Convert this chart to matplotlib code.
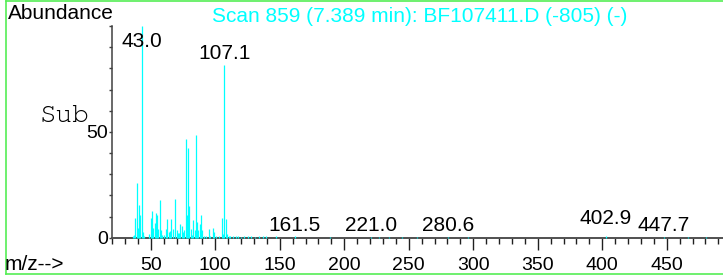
import matplotlib
matplotlib.use("Agg")
import matplotlib.pyplot as plt
from matplotlib.ticker import MultipleLocator, FixedLocator
from matplotlib.lines import Line2D
from matplotlib import font_manager

plt.rcParams['font.family'] = ['Liberation Sans', 'DejaVu Sans']

# ---- data ----
mz_main = [36, 37, 38, 39, 40, 41, 42, 43, 44, 45,
           49, 50, 51, 52, 53, 54, 55, 56, 57, 58, 59, 60,
           62, 63, 64, 65, 66, 67, 69, 70, 71, 72, 73, 74, 75, 76,
           77, 78, 79, 80, 81, 82, 83, 84, 85, 86, 87, 88, 89, 90, 91,
           93, 95, 96, 98, 99, 101, 103, 105, 106, 107, 108, 109]
ab_main = [0.8, 1.5, 9.4, 25.8, 4.6, 15.3, 10.5, 100, 2.7, 1.0,
           1.6, 9.4, 12.4, 4.7, 6.9, 11.6, 10.5, 4.0, 17.9, 3.8, 1.4, 1.5,
           4.2, 8.6, 2.7, 3.0, 8.6, 4.2, 18.4, 3.8, 2.0, 2.4, 6.6, 5.3, 2.7, 3.5,
           46.7, 10.5, 42.5, 14.8, 4.2, 1.5, 8.5, 3.8, 48.7, 7.4, 3.5, 6.6, 10.5, 3.5, 1.0,
           1.0, 4.0, 1.0, 4.6, 2.9, 1.0, 1.0, 9.4, 1.8, 81.6, 8.6, 1.8]
mz_minor = [110.5, 111.5, 113.6, 116, 118, 120, 122.6, 125.2, 127.8, 131,
            134.3, 136.9, 139.5, 147.2, 161.5, 188.6, 221.0, 226.8, 234.5,
            245.0, 256.7, 280.6, 295.7, 402.9, 447.7, 466.3, 480.5]
ab_minor = [0.9, 0.8, 0.7, 0.6, 0.6, 0.5, 0.7, 0.7, 0.6, 0.5,
            0.6, 0.6, 0.6, 0.6, 0.7, 0.5, 0.5, 0.4, 0.4,
            0.4, 0.3, 0.5, 0.5, 0.8, 0.5, 0.4, 0.4]
label_mz = [43.0, 107.1, 161.5, 221.0, 280.6, 402.9, 447.7]
label_peak = [100, 81.6, 0.7, 0.5, 0.5, 0.8, 0.5]
label_raise = [0, 0, 0, 0, 0, 3.0, 0]   # stagger to avoid neighbours
title = "Scan 859 (7.389 min): BF107411.D (-805) (-)"

# pick a Courier-like monospace font if one is installed
installed = {f.name for f in font_manager.fontManager.ttflist}
mono = ['Liberation Mono']
for cand in ['Courier New', 'Courier', 'Nimbus Mono PS', 'Nimbus Mono L',
             'FreeMono', 'Courier 10 Pitch', 'TeX Gyre Cursor']:
    if cand in installed:
        mono = [cand]
        break

W, H = 723, 275
fig = plt.figure(figsize=(W / 100, H / 100), dpi=100)
fig.patch.set_facecolor('white')

ax = fig.add_axes([112 / W, (H - 237.7) / H, (W - 112) / W, (237.7 - 26) / H])
ax.set_xlim(20, 493.6)
ax.set_ylim(0, 100)
ax.patch.set_alpha(0)

cyan = '#00ffff'
ax.vlines(mz_main, 0, ab_main, color=cyan, lw=0.9, zorder=3, clip_on=False)
ax.vlines(mz_minor, 0, ab_minor, color=cyan, lw=0.9, zorder=3, clip_on=False)

for m, p, r in zip(label_mz, label_peak, label_raise):
    y = min(p + 2.6, 90) + r
    ax.text(m, y, f"{m:.1f}", ha='center', va='baseline', fontsize=15,
            color='black', clip_on=False, zorder=4)

for s in ['top', 'right']:
    ax.spines[s].set_visible(False)
ax.spines['left'].set_color('#404040')
ax.spines['left'].set_linewidth(1.1)
ax.spines['bottom'].set_color('#505050')
ax.spines['bottom'].set_linewidth(1.4)

ax.xaxis.set_major_locator(FixedLocator([50, 100, 150, 200, 250, 300, 350, 400, 450]))
ax.xaxis.set_minor_locator(MultipleLocator(10))
ax.yaxis.set_major_locator(FixedLocator([0, 50]))
ax.yaxis.set_minor_locator(MultipleLocator(10))
ax.tick_params(axis='x', which='major', length=8.6, width=1.0, color='#202020',
               labelsize=14, pad=5)
ax.tick_params(axis='x', which='minor', length=4.3, width=1.0, color='#202020')
ax.tick_params(axis='y', which='both', length=2.2, width=1.0, color='#404040',
               labelsize=14, pad=0.8)

fig.text(8 / W, 1 - 19 / H, "Abundance", fontsize=15, va='baseline', ha='left')
fig.text(419.5 / W, 1 - 21.5 / H, title, fontsize=15, va='baseline',
         ha='center', color=cyan)
fig.text(39 / W, 1 - 121.7 / H, "Sub", family=mono, fontsize=20,
         va='baseline', ha='left', fontweight='medium')
fig.text(5 / W, 1 - 270.5 / H, "m/z-->", fontsize=15, va='baseline', ha='left')

green = '#55ee55'
for xs, ys in [((6 / W, 6 / W), (1 - 0.7 / H, 1 - 273.5 / H)),
               ((6 / W, 1.0), (1 - 0.7 / H, 1 - 0.7 / H)),
               ((6 / W, 1.0), (1 - 273.5 / H, 1 - 273.5 / H))]:
    fig.add_artist(Line2D(xs, ys, color=green, lw=1.2, transform=fig.transFigure))

fig.savefig("out.png", dpi=100)
